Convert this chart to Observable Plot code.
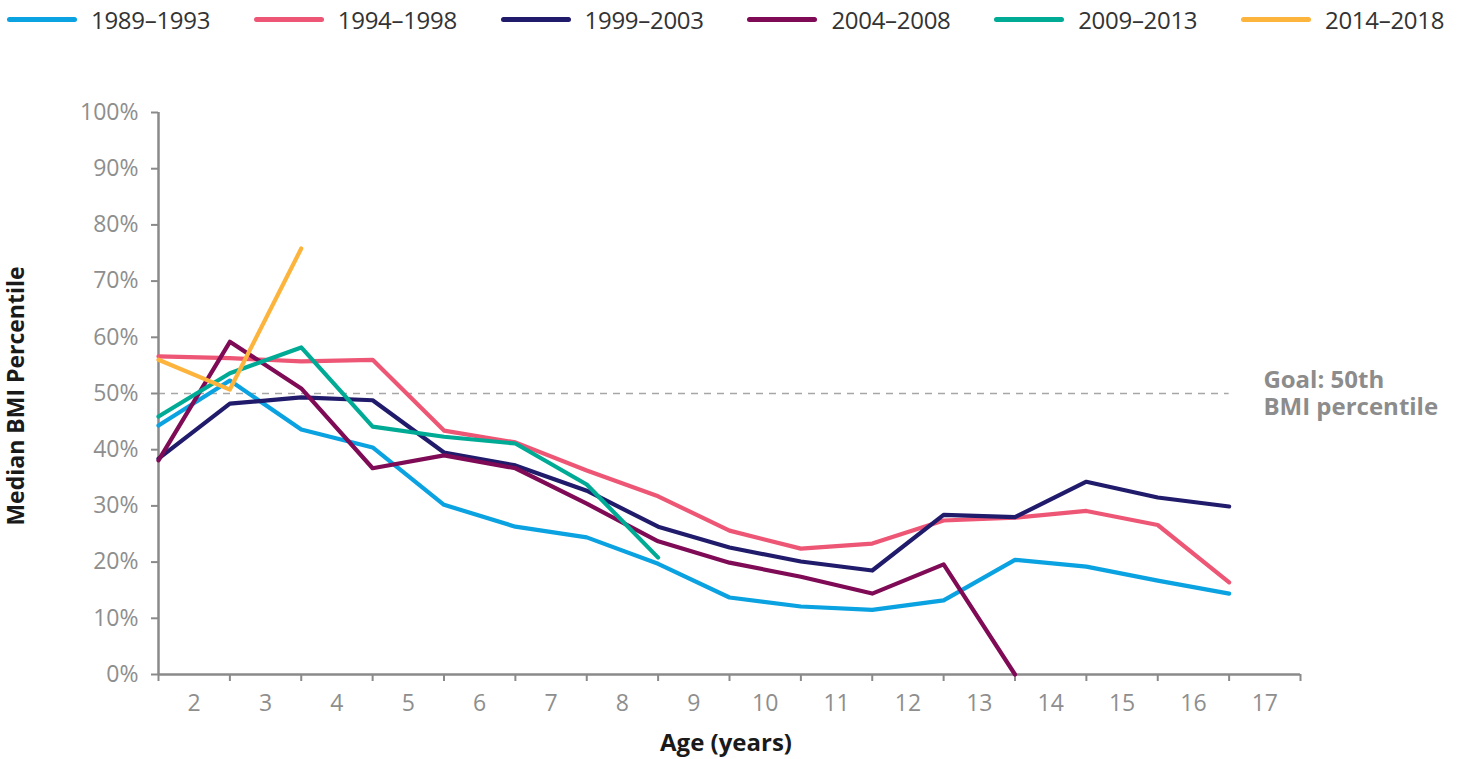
<!DOCTYPE html>
<html>
<head>
<meta charset="utf-8">
<script src="https://cdn.jsdelivr.net/npm/d3@7"></script>
<script src="https://cdn.jsdelivr.net/npm/@observablehq/plot@0.6"></script>
<style>
  html, body { margin: 0; padding: 0; background: #fff; }
  body { width: 1464px; height: 759px; overflow: hidden; font-family: "Open Sans", sans-serif; }
  #legend { position: relative; height: 38px; }
  .item { position: absolute; top: 0; height: 38px; display: flex; align-items: center; }
  .sw { width: 70px; height: 5px; border-radius: 3px; margin-right: 14px; }
  .lbl { font-size: 24px; color: #333; font-weight: 400; letter-spacing: -0.3px; }
</style>
</head>
<body>
<div id="legend"></div>
<div id="chart"></div>
<script>
// Tick labels (ages) shown between tick marks
const ageLabels = [2, 3, 4, 5, 6, 7, 8, 9, 10, 11, 12, 13, 14, 15, 16, 17];

// Series names and colours
const seriesNames = ["1989–1993", "1994–1998", "1999–2003", "2004–2008", "2009–2013", "2014–2018"];
const seriesColors = ["#0AA2E0", "#EE5675", "#211B6C", "#7F0A55", "#00AB96", "#FDB43D"];

// Median BMI percentile (%) by point index
const s1989 = [44.3, 52.3, 43.6, 40.4, 30.2, 26.3, 24.4, 19.7, 13.7, 12.1, 11.5, 13.2, 20.4, 19.2, 16.7, 14.4];
const s1994 = [56.6, 56.3, 55.7, 56.0, 43.4, 41.3, 36.3, 31.7, 25.6, 22.4, 23.3, 27.4, 27.9, 29.1, 26.6, 16.4];
const s1999 = [38.4, 48.2, 49.3, 48.8, 39.5, 37.2, 32.7, 26.3, 22.6, 20.1, 18.5, 28.4, 28.0, 34.3, 31.5, 29.9];
const s2004 = [38.1, 59.2, 50.9, 36.7, 39.0, 36.7, 30.4, 23.7, 19.9, 17.4, 14.4, 19.6, 0.0];
const s2009 = [45.9, 53.6, 58.2, 44.1, 42.3, 41.1, 33.8, 20.8];
const s2014 = [56.0, 50.7, 75.8];

const allSeries = [s1989, s1994, s1999, s2004, s2009, s2014];

const goalValue = 50;
const goalLines = ["Goal: 50th", "BMI percentile"];

// Build long table
const rows = [];
allSeries.forEach((arr, si) => {
  arr.forEach((v, i) => rows.push({ series: seriesNames[si], i, v }));
});

// Legend
const legend = document.getElementById("legend");
seriesNames.forEach((name, k) => {
  const it = document.createElement("div");
  it.className = "item";
  it.style.left = (7 + k * 246.8) + "px";
  const sw = document.createElement("div");
  sw.className = "sw";
  sw.style.background = seriesColors[k];
  const lb = document.createElement("span");
  lb.className = "lbl";
  lb.textContent = name;
  it.appendChild(sw);
  it.appendChild(lb);
  legend.appendChild(it);
});

const nPts = ageLabels.length; // 16 intervals
const axisColor = "#8a8a8a";
const labelColor = "#8e8e8e";

const chart = Plot.plot({
  width: 1464,
  height: 721,
  marginLeft: 158,
  marginRight: 164,
  marginTop: 74,
  marginBottom: 85,
  style: { fontFamily: "Open Sans, sans-serif", background: "#fff", overflow: "visible" },
  x: { domain: [0, nPts], axis: null },
  y: { domain: [0, 100], axis: null },
  color: { domain: seriesNames, range: seriesColors },
  marks: [
    // goal dashed line
    Plot.ruleY([goalValue], { x1: 0, x2: nPts - 1, stroke: "#a6a6a6", strokeWidth: 1.5, strokeDasharray: "7,6" }),
    Plot.text([goalValue], {
      x: nPts - 0.52, y: d => d, text: () => goalLines[0], textAnchor: "start", lineAnchor: "middle",
      dy: -13, fontSize: 24, fontWeight: 700, fill: "#8c8c8c"
    }),
    Plot.text([goalValue], {
      x: nPts - 0.52, y: d => d, text: () => goalLines[1], textAnchor: "start", lineAnchor: "middle",
      dy: 14, fontSize: 24, fontWeight: 700, fill: "#8c8c8c"
    }),
    // y axis
    Plot.axisY({
      ticks: d3.range(0, 101, 10), tickFormat: d => d + "%", tickSize: 7, tickPadding: 13,
      fontSize: 23, fill: labelColor, stroke: axisColor, strokeWidth: 2, label: null, fontWeight: 400
    }),
    // x ticks (between-band marks)
    Plot.axisX({ ticks: d3.range(0, nPts + 1), tickFormat: () => "", tickSize: 7, stroke: axisColor, strokeWidth: 2, label: null }),
    // x labels centered between ticks
    Plot.axisX({
      ticks: ageLabels.map((a, k) => k + 0.5), tickFormat: (d, k) => String(ageLabels[k]),
      tickSize: 0, tickPadding: 20, fontSize: 23, fill: labelColor, label: null, fontWeight: 400
    }),
    Plot.ruleX([0], { stroke: axisColor, strokeWidth: 2.5 }),
    Plot.ruleY([0], { x1: 0, x2: nPts, stroke: axisColor, strokeWidth: 2.5 }),
    // lines
    Plot.line(rows, {
      x: "i", y: "v", z: "series", stroke: "series", strokeWidth: 4.2,
      strokeLinecap: "round", strokeLinejoin: "round"
    })
  ]
});

document.getElementById("chart").appendChild(chart);

// Axis titles as SVG text
const svg = d3.select(chart);
svg.append("text")
  .attr("x", 726).attr("y", 745 - 38)
  .attr("text-anchor", "middle").attr("dominant-baseline", "middle")
  .attr("font-size", 24).attr("font-weight", 700).attr("fill", "#1a1a1a")
  .attr("font-family", "Open Sans, sans-serif")
  .text("Age (years)");
svg.append("text")
  .attr("transform", `translate(18, ${396 - 38}) rotate(-90)`)
  .attr("text-anchor", "middle").attr("dominant-baseline", "middle")
  .attr("font-size", 23).attr("font-weight", 700).attr("fill", "#1a1a1a")
  .attr("font-family", "Open Sans, sans-serif")
  .text("Median BMI Percentile");
</script>
</body>
</html>
